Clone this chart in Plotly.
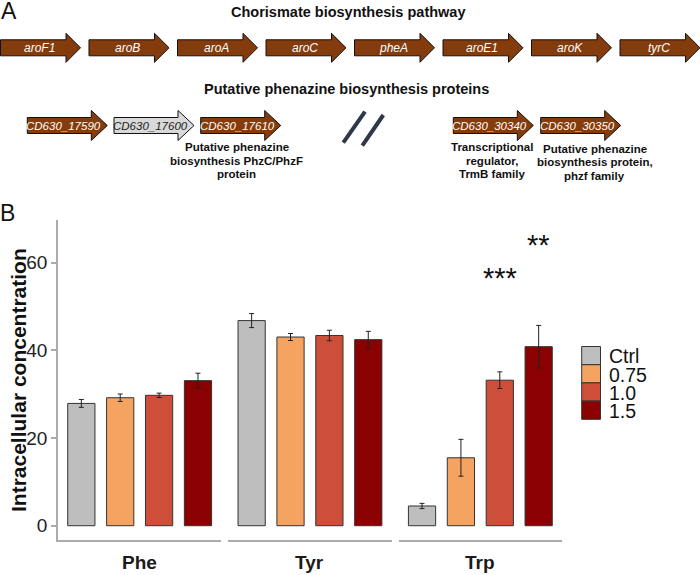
import plotly.graph_objects as go

W, H = 700, 575
def px(x): return x / W
def py(y): return 1 - y / H

FONT = "Liberation Sans, Arial, sans-serif"

# ---------------- data ----------------
amino_acids = ["Phe", "Tyr", "Trp"]
conditions = ["Ctrl", "0.75", "1.0", "1.5"]
colors = ["#BEBEBE", "#F4A460", "#CD4F39", "#8B0000"]

phe_vals = [27.9, 29.2, 29.75, 33.1]
phe_err = [0.9, 0.85, 0.5, 1.7]
tyr_vals = [46.8, 43.05, 43.4, 42.45]
tyr_err = [1.6, 0.8, 1.2, 1.9]
trp_vals = [4.5, 15.5, 33.2, 40.85]
trp_err = [0.6, 4.2, 1.9, 4.85]

sig_conditions = ["1.0", "1.5"]
sig_labels = ["***", "**"]
sig_y = [56.5, 64.0]

y_ticks = [0, 20, 40, 60]

pathway_title = "Chorismate biosynthesis pathway"
pathway_genes = ["aroF1", "aroB", "aroA", "aroC", "pheA", "aroE1", "aroK", "tyrC"]
phenazine_title = "Putative phenazine biosynthesis proteins"
phenazine_genes = ["CD630_17590", "CD630_17600", "CD630_17610", "CD630_30340", "CD630_30350"]
phenazine_active = [True, False, True, True, True]
gene_notes_genes = ["CD630_17610", "CD630_30340", "CD630_30350"]
gene_notes_lines = [
    ["Putative phenazine", "biosynthesis PhzC/PhzF", "protein"],
    ["Transcriptional", "regulator,", "TrmB family"],
    ["Putative phenazine", "biosynthesis protein,", "phzf family"],
]

# ---------------- styles / layout positions ----------------
BROWN = "#843C0C"
LIGHT = "#D9D9D9"
AXIS_GREY = "#ABABAB"

fig = go.Figure()

facet_vals = [phe_vals, tyr_vals, trp_vals]
facet_errs = [phe_err, tyr_err, trp_err]
facet_starts = [58, 228.3, 398.7]
facet_w = 163.3
xaxis_names = ["x", "x2", "x3"]

for i, aa in enumerate(amino_acids):
    fig.add_trace(go.Bar(
        x=conditions, y=facet_vals[i],
        xaxis=xaxis_names[i], yaxis="y",
        width=0.7,
        marker=dict(color=colors, line=dict(color="#333333", width=1)),
        error_y=dict(type="data", array=facet_errs[i], visible=True,
                     color="#222222", thickness=1, width=2.5),
        showlegend=False, name=aa,
    ))

layout_axes = {}
for i, name in enumerate(["xaxis", "xaxis2", "xaxis3"]):
    s = facet_starts[i]
    layout_axes[name] = dict(
        domain=[px(s), px(s + facet_w)], anchor="y",
        range=[-0.6, 3.6], type="category",
        showline=True, linecolor=AXIS_GREY, linewidth=1.5,
        showticklabels=False, ticks="", showgrid=False, zeroline=False,
        fixedrange=True,
    )

fig.update_layout(
    **layout_axes,
    yaxis=dict(
        domain=[py(540), py(220)], range=[-3.26, 69.75], anchor="x",
        tickvals=y_ticks, ticks="outside", ticklen=5, tickwidth=1.5,
        tickcolor=AXIS_GREY, showline=True, linecolor=AXIS_GREY, linewidth=1.5,
        showgrid=False, zeroline=False,
        tickfont=dict(family=FONT, size=19, color="#222222"),
    ),
    width=W, height=H,
    margin=dict(l=0, r=0, t=0, b=0),
    paper_bgcolor="white", plot_bgcolor="white",
    bargap=0.3,
)

annotations = []
shapes = []


def note(x, y, text, size, color="#111", xanchor="center", **kw):
    d = dict(x=x, y=y, xref="paper", yref="paper", text=text, showarrow=False,
             xanchor=xanchor, yanchor="middle",
             font=dict(family=FONT, size=size, color=color))
    d.update(kw)
    annotations.append(d)


# significance marks (category index on the Trp facet axis)
for c, lab, yv in zip(sig_conditions, sig_labels, sig_y):
    annotations.append(dict(x=conditions.index(c), y=yv, xref="x3", yref="y", text=lab,
                            xanchor="center", yanchor="middle",
                            showarrow=False, font=dict(family=FONT, size=29, color="#111")))

# facet labels
for i, aa in enumerate(amino_acids):
    note(px(facet_starts[i] + facet_w / 2), py(562.7), "<b>%s</b>" % aa, 19, "#1a1a1a")

# y axis title
note(px(18), py(380), "<b>Intracellular concentration</b>", 21, textangle=-90)

# legend (manual)
for i, (c, col) in enumerate(zip(conditions, colors)):
    top = 346.5 + i * 18.2
    shapes.append(dict(type="rect", xref="paper", yref="paper",
                       x0=px(581.7), x1=px(600.5), y0=py(top + 18.2), y1=py(top),
                       fillcolor=col, line=dict(color="#333333", width=1)))
    note(px(606.5), py(top + 9.8), c, 19.5, xanchor="left")

# panel labels
note(px(8.5), py(10.5), "A", 23)
note(px(7.5), py(213.5), "B", 23)

# panel A titles
note(px(347.5), py(12), "<b>%s</b>" % pathway_title, 14.5)
note(px(346.7), py(89), "<b>%s</b>" % phenazine_title, 14.5)


def arrow_path(x0, length, yc, bh, hh, hl):
    pts = [(x0, yc - bh), (x0 + length - hl, yc - bh), (x0 + length - hl, yc - hh),
           (x0 + length, yc), (x0 + length - hl, yc + hh), (x0 + length - hl, yc + bh),
           (x0, yc + bh)]
    return "M " + " L ".join("%.5f,%.5f" % (px(a), py(b)) for a, b in pts) + " Z"


# row 1 arrows
for i, g in enumerate(pathway_genes):
    x0 = 0.5 + i * 88.5
    shapes.append(dict(type="path", xref="paper", yref="paper",
                       path=arrow_path(x0, 80, 47.8, 8, 14.5, 14.5),
                       fillcolor=BROWN, line=dict(color="#111", width=1)))
    note(px(x0 + 38.5), py(47.8), "<i>%s</i>" % g, 12, "white")

# row 2 arrows
row2_x0 = [27.3, 114, 200.7, 453.3, 540.7]
for g, x0, act in zip(phenazine_genes, row2_x0, phenazine_active):
    shapes.append(dict(type="path", xref="paper", yref="paper",
                       path=arrow_path(x0, 80, 125.5, 8, 15, 16),
                       fillcolor=BROWN if act else LIGHT, line=dict(color="#111", width=1)))
    note(px(x0 + 36.5), py(125.5), "<i>%s</i>" % g, 11.5, "white" if act else "#222")

# gene notes
note_cx = [236.7, 491.7, 594.5]
note_y0 = [147, 147, 149]
for lines, cx, y0 in zip(gene_notes_lines, note_cx, note_y0):
    for j, ln in enumerate(lines):
        note(px(cx), py(y0 + j * 13.5), "<b>%s</b>" % ln, 11.5)

# break slashes
for (xa, ya, xb, yb) in [(343.3, 142.7, 365, 111.7), (362.3, 145.7, 383.3, 115)]:
    shapes.append(dict(type="line", xref="paper", yref="paper",
                       x0=px(xa), y0=py(ya), x1=px(xb), y1=py(yb),
                       line=dict(color="#2E3848", width=4)))

fig.update_layout(annotations=annotations, shapes=shapes)
fig.write_html("out.html", config={"displayModeBar": False},
               post_script="document.body.style.margin='0px';document.body.style.padding='0px';")
